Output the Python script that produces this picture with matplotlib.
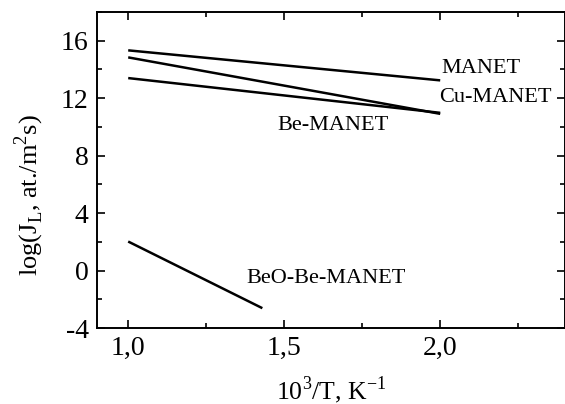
import numpy as np
import matplotlib.pyplot as plt
from matplotlib.ticker import MultipleLocator, FuncFormatter

plt.rcParams['font.family'] = 'Liberation Serif'
plt.rcParams['mathtext.fontset'] = 'custom'
plt.rcParams['mathtext.rm'] = 'Liberation Serif'
plt.rcParams['axes.unicode_minus'] = False

# 10^3/T endpoints and log(J_L) for each material
x_manet = [1.0, 2.0]
y_manet = [15.33, 13.24]
x_cu = [1.0, 2.0]
y_cu = [14.84, 10.91]
x_be = [1.0, 2.0]
y_be = [13.40, 10.98]
x_beo = [1.0, 1.43]
y_beo = [2.02, -2.62]

labels = ['MANET', 'Cu-MANET', 'Be-MANET', 'BeO-Be-MANET']

fig = plt.figure(figsize=(5.65, 4.04), dpi=100)
ax = fig.add_axes([97 / 565, 1 - 328 / 404, 468 / 565, 316 / 404])

for xs, ys in [(x_manet, y_manet), (x_cu, y_cu), (x_be, y_be), (x_beo, y_beo)]:
    ax.plot(xs, ys, color='black', lw=1.8, solid_capstyle='butt')

ax.text(2.005, 14.1, labels[0], fontsize=16, va='center', ha='left')
ax.text(1.998, 12.05, labels[1], fontsize=16, va='center', ha='left')
ax.text(1.478, 10.1, labels[2], fontsize=16, va='center', ha='left')
ax.text(1.38, -0.58, labels[3], fontsize=16, va='center', ha='left')

ax.set_xlim(0.9, 2.4)
ax.set_ylim(-4, 18)
ax.xaxis.set_major_locator(MultipleLocator(0.5))
ax.xaxis.set_minor_locator(MultipleLocator(0.25))
ax.yaxis.set_major_locator(MultipleLocator(4))
ax.yaxis.set_minor_locator(MultipleLocator(2))
ax.xaxis.set_major_formatter(FuncFormatter(lambda v, p: f'{v:.1f}'.replace('.', ',')))
ax.tick_params(which='both', direction='in', top=True, right=True, width=1.2)
ax.tick_params(which='major', length=6, labelsize=20, pad=6)
ax.tick_params(which='minor', length=3.5)
for s in ax.spines.values():
    s.set_linewidth(1.4)

ax.set_xlabel(r'10$^\mathregular{3}$/T, K$^\mathregular{-1}$', fontsize=18.5, labelpad=9)
ax.set_ylabel(r'log(J$_\mathregular{L}$, at./m$^\mathregular{2}$s)', fontsize=19)
ax.yaxis.set_label_coords(-0.11, 0.42)

fig.savefig('out.png', dpi=100)
